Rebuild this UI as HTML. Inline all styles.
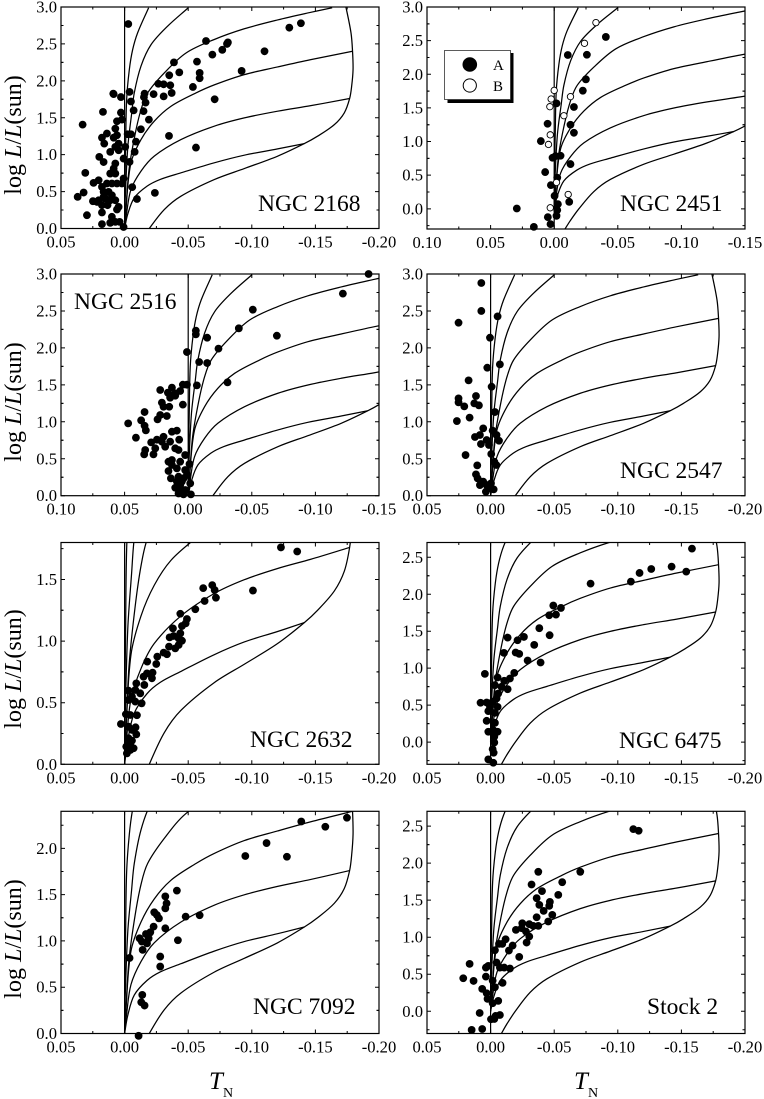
<!DOCTYPE html>
<html lang="en">
<head>
<meta charset="utf-8">
<title>Colour-magnitude panels</title>
<style>
html,body{margin:0;padding:0;background:#fff;}
svg{display:block;}
text{font-family:"Liberation Serif",serif;fill:#000;}
</style>
</head>
<body>
<svg id="chart" xmlns="http://www.w3.org/2000/svg" width="764" height="1099" viewBox="0 0 764 1099">
<rect x="0" y="0" width="764" height="1099" fill="#fff"/>
<text transform="translate(21,135) rotate(-90)" text-anchor="middle" font-size="24">log <tspan font-style="italic">L</tspan>/<tspan font-style="italic">L</tspan>(sun)</text>
<text transform="translate(21,402) rotate(-90)" text-anchor="middle" font-size="24">log <tspan font-style="italic">L</tspan>/<tspan font-style="italic">L</tspan>(sun)</text>
<text transform="translate(21,669) rotate(-90)" text-anchor="middle" font-size="24">log <tspan font-style="italic">L</tspan>/<tspan font-style="italic">L</tspan>(sun)</text>
<text transform="translate(21,939) rotate(-90)" text-anchor="middle" font-size="24">log <tspan font-style="italic">L</tspan>/<tspan font-style="italic">L</tspan>(sun)</text>
<text x="209" y="1089" font-size="25" font-style="italic">T</text>
<text x="223" y="1097" font-size="14">N</text>
<text x="574" y="1089" font-size="25" font-style="italic">T</text>
<text x="588" y="1097" font-size="14">N</text>
<g id="panels"></g>
<g>
<rect x="447.5" y="53" width="66" height="50" fill="#000"/>
<rect x="444.5" y="50.5" width="66" height="49" fill="#fff" stroke="#333" stroke-width="0.8"/>
<circle cx="469.8" cy="64.5" r="7.3" fill="#000"/>
<circle cx="469.8" cy="85.5" r="6.6" fill="#fff" stroke="#000" stroke-width="1"/>
<text x="493" y="70" font-size="15">A</text>
<text x="493" y="91" font-size="15">B</text>
</g>
</svg>
<script>
const curveBoundary = [[-.0085,-.3],[-.0125,-.18],[-.0194,0],[-.0312,.257],[-.0443,.438],[-.0705,.663],[-.0941,.812],[-.1203,.98],[-.1413,1.15],[-.1517,1.25],[-.1649,1.407],[-.1727,1.566],[-.1769,1.76],[-.1785,1.927],[-.1796,2.15],[-.1792,2.4],[-.178,2.648],[-.1741,2.99],[-.173,3.05]];
const curveK1 = [[0,0],[-.0024,.19],[-.0076,.415],[-.0177,.574],[-.028,.665],[-.0443,.754],[-.0705,.89],[-.0941,.993],[-.1203,1.078],[-.1413,1.15]];
const curveK2 = [[0,0],[-.0015,.2],[-.005,.528],[-.0129,.777],[-.0233,.98],[-.0443,1.204],[-.0705,1.386],[-.0941,1.498],[-.1203,1.589],[-.1464,1.664],[-.1769,1.76]];
const curveK3 = [[0,0],[-.0012,.3],[-.005,.889],[-.0129,1.204],[-.0233,1.453],[-.0365,1.656],[-.0561,1.836],[-.0705,1.945],[-.0941,2.084],[-.1203,2.188],[-.1464,2.287],[-.1792,2.4]];
const curveK4 = [[0,0],[-.001,.25],[-.0035,.8],[-.0082,1.272],[-.0129,1.61],[-.0181,1.836],[-.0312,2.107],[-.0483,2.377],[-.0705,2.56],[-.0941,2.705],[-.1203,2.825],[-.1464,2.928],[-.1632,2.99]];
const curveK5 = [[0,0],[-.0005,.4],[-.0025,1.1],[-.0055,1.55],[-.0076,1.836],[-.0129,2.2],[-.0208,2.49],[-.0338,2.74],[-.0501,2.99]];
const curveK6 = [[0,0],[-.0002,.5],[-.0008,1.1],[-.0016,1.746],[-.0037,2.15],[-.0063,2.42],[-.0102,2.648],[-.0189,2.99]];

const xLabelsRed = [0.05,0,-0.05,-0.10,-0.15,-0.20];
const xLabelsBlue = [0.10,0.05,0,-0.05,-0.10,-0.15];
const yLabels30 = [0,0.5,1.0,1.5,2.0,2.5,3.0];
const yLabels18 = [0,0.5,1.0,1.5];
const yLabels25 = [0,0.5,1.0,1.5,2.0,2.5];
const yLabels20 = [0,0.5,1.0,1.5,2.0];

const ngc2168Stars = [[-.0029,2.77],[-.064,2.54],[-.0812,2.52],[-.0805,2.5],[-.1295,2.72],[-.1386,2.78],[-.11,2.4],[-.0768,2.42],[-.069,2.355],[-.0569,2.26],[-.0388,2.25],[-.043,2.115],[-.059,2.107],[-.059,2.035],[-.0351,2.075],[-.092,2.134],[-.0537,1.917],[-.0265,1.96],[-.0307,1.953],[-.0359,1.94],[-.037,1.836],[-.0307,1.79],[-.0228,1.82],[-.0157,1.827],[-.0152,1.78],[-.0165,1.705],[-.0708,1.75],[-.0039,1.85],[-.005,1.72],[-.0071,1.6],[-.0149,1.59],[-.0191,1.475],[-.0128,1.344],[-.0349,1.254],[-.0561,1.096],[-.0089,1.177],[-.0024,1.277],[-.005,1.277],[-.0079,1.038],[-.0039,.902],[-.006,.56],[-.0097,.4],[-.0238,.483],[.0008,.02],[.0089,1.827],[.0086,1.82],[.0029,1.78],[.0029,1.57],[.017,1.58],[.033,1.407],[.0021,1.475],[.006,1.453],[.0073,1.353],[.0139,1.286],[.0178,1.23],[.016,1.15],[.006,1.263],[.0086,1.23],[.0047,1.15],[.0113,1.038],[.0073,1.105],[.0047,1.06],[-.0005,1.105],[.0199,.97],[.0165,.9],[.0073,.88],[.0309,.753],[.0008,.947],[.0113,.744],[.0073,.744],[.0086,.812],[.0008,.677],[.006,.609],[.0021,.609],[.0244,.618],[.0204,.654],[.0178,.564],[.0139,.609],[.01,.609],[.0165,.496],[.0126,.496],[.0322,.487],[.0369,.429],[.0249,.37],[.0204,.383],[.0152,.406],[.0113,.383],[.0178,.316],[.0134,.316],[.0073,.383],[.0047,.293],[.006,.257],[.0178,.217],[.0296,.18],[.0178,.059],[.01,.158],[.0073,.09],[.0113,.077],[.0039,.09],[.0165,.429],[.0217,.36],[.01,.45]];
const ngc2451StarsA = [[-.0406,2.555],[-.0107,2.287],[-.0257,2.29],[-.0249,1.925],[-.0225,1.756],[-.0018,1.567],[-.0155,1.513],[.0052,1.265],[-.0128,1.25],[-.0155,1.13],[.0105,1.007],[.0013,.759],[-.005,.789],[-.001,.784],[-.0128,.665],[.0071,.546],[-.0024,.461],[.0026,.352],[-.0003,.193],[-.0118,.104],[.0294,.005],[-.0029,.069],[-.0024,-.02],[.005,-.124],[-.0018,-.104],[.0029,-.228],[.016,-.268]];
const ngc2451StarsB = [[-.0328,2.768],[-.0238,2.46],[0,1.76],[.0024,1.632],[.0034,1.518],[-.0128,1.667],[-.0076,1.384],[.0031,1.1],[.0045,.957],[-.0018,.392],[-.011,.213],[.0031,.015]];
const ngc2516Stars = [[-.1418,3.0],[-.1216,2.734],[-.0508,2.517],[-.0398,2.265],[-.0697,2.165],[-.006,2.233],[-.006,2.183],[-.0149,2.138],[-.0238,1.99],[.001,1.944],[-.0086,1.809],[-.0149,1.795],[-.0309,1.534],[-.0068,1.493],[.0042,1.502],[.001,1.502],[.022,1.43],[.0128,1.462],[.016,1.394],[.0102,1.385],[.0063,1.417],[.0142,1.326],[.0102,1.353],[.0042,1.232],[.0207,1.259],[.0194,1.204],[.0149,1.204],[.0343,1.132],[.037,1.02],[.0343,.947],[.0333,.884],[.0472,.979],[.0411,.785],[.022,1.092],[.0241,1.033],[.0168,1.078],[.0338,.618],[.0346,.559],[.0273,.559],[.0291,.722],[.0246,.758],[.0259,.641],[.0194,.798],[.0128,.866],[.0089,.88],[.0071,.758],[.0181,.663],[.0142,.731],[.0207,.731],[.0102,.641],[.0076,.618],[.0024,.55],[.0128,.483],[.0155,.46],[.0063,.46],[-.001,.429],[.0128,.415],[.0155,.334],[.0089,.37],[.0024,.347],[.0136,.235],[.0076,.257],[.0037,.235],[.0102,.108],[.0063,.144],[-.0016,.167],[.0024,.077],[.0076,.03],[-.0021,.018],[.0037,.018],[.0063,.099],[.005,.19],[.001,.28],[.0089,.19]];
const ngc2547Stars = [[.0073,2.878],[.0073,2.5],[.0252,2.341],[-.0055,2.427],[.0005,2.138],[.0026,1.732],[-.0073,1.777],[-.0008,1.475],[.0173,1.561],[.0252,1.317],[.0252,1.263],[.0115,1.349],[.0128,1.25],[.0092,1.223],[.0207,1.209],[.0165,1.056],[.0265,1.01],[-.0034,1.132],[.0058,.911],[-.0016,.88],[.0123,.794],[.0084,.821],[.0076,.699],[.0031,.753],[.0013,.686],[-.0047,.821],[-.0066,.744],[.0197,.55],[-.0005,.564],[-.0029,.46],[-.0045,.415],[.0105,.41],[.0115,.289],[.0102,.235],[.0084,.144],[.0058,.19],[.0031,.144],[-.0003,.167],[-.0024,.086],[.0037,.054],[.0013,.099]];
const ngc2632Stars = [[-.1229,1.76],[-.1357,1.727],[-.1009,1.41],[-.0618,1.43],[-.0689,1.454],[-.0708,1.414],[-.0718,1.352],[-.0629,1.325],[-.0556,1.258],[-.0438,1.222],[-.049,1.179],[-.048,1.144],[-.0451,1.122],[-.038,1.103],[-.0385,1.041],[-.0354,1.03],[-.0438,1.063],[-.0425,1.022],[-.0451,1.003],[-.0425,.968],[-.0349,.955],[-.0398,.941],[-.0307,.906],[-.0333,.893],[-.0178,.833],[-.0257,.874],[-.0249,.814],[-.022,.744],[-.0176,.738],[-.0149,.711],[-.0215,.698],[-.0155,.644],[-.0092,.657],[-.0123,.576],[-.0084,.603],[-.0031,.598],[-.0058,.549],[-.0134,.495],[-.0031,.522],[-.0084,.509],[-.001,.406],[-.0045,.4],[-.0097,.398],[.0029,.327],[-.0031,.306],[-.0086,.3],[-.0092,.243],[-.0031,.211],[-.0058,.192],[-.0013,.143],[-.0071,.13],[-.0045,.116],[-.0018,.089],[-.0045,.17],[-.0058,.279]];
const ngc6475Stars = [[-.1583,2.617],[-.1538,2.306],[-.1423,2.374],[-.1263,2.342],[-.1171,2.288],[-.1103,2.171],[-.0786,2.144],[-.0553,1.815],[-.0493,1.847],[-.0514,1.725],[-.0461,1.716],[-.0383,1.541],[-.0464,1.446],[-.0343,1.315],[-.0262,1.423],[-.0212,1.378],[-.0134,1.414],[-.0105,1.207],[-.0197,1.212],[-.0225,1.194],[-.0291,1.104],[-.0393,1.077],[-.0186,.937],[-.0152,.86],[.0045,.923],[-.0055,.874],[-.0107,.829],[-.0034,.77],[-.0086,.748],[-.0134,.716],[-.006,.658],[.0079,.532],[.0031,.536],[-.0047,.59],[-.0016,.545],[-.0055,.477],[.0005,.477],[.0018,.419],[-.0034,.396],[.0031,.288],[-.0034,.261],[.0018,.14],[-.0055,.14],[-.0021,.162],[-.0029,.072],[-.0029,-.005],[-.0016,-.095],[-.0024,-.144],[.0018,-.234],[-.0021,-.279]];
const ngc7092Stars = [[-.1748,2.33],[-.1578,2.233],[-.1389,2.29],[-.1116,2.057],[-.0949,1.917],[-.1276,1.909],[-.0411,1.543],[-.032,1.481],[-.033,1.406],[-.032,1.352],[-.0233,1.309],[-.0254,1.28],[-.027,1.244],[-.048,1.262],[-.059,1.277],[-.0228,1.154],[-.032,1.136],[-.0202,1.093],[-.0168,1.075],[-.0189,1.028],[-.0118,1.028],[-.0136,.992],[-.0176,.974],[-.0419,1.007],[-.0142,.903],[-.0039,.816],[-.028,.831],[-.028,.723],[-.0139,.417],[-.0131,.338],[-.0157,.302],[-.011,-.025]];
const stock2Stars = [[-.1122,2.459],[-.1164,2.437],[-.0705,1.883],[-.0375,1.883],[-.0563,1.743],[-.0322,1.712],[-.0404,1.622],[-.0532,1.572],[-.0362,1.527],[-.0466,1.477],[-.0383,1.437],[-.0461,1.423],[-.0417,1.356],[-.0485,1.302],[-.0362,1.27],[-.0453,1.212],[-.0375,1.153],[-.0335,1.153],[-.0304,1.176],[-.0249,1.189],[-.0199,1.099],[-.0244,1.122],[-.0278,1.077],[-.0304,1.009],[-.0283,.928],[-.0118,.973],[-.0066,.91],[-.0092,.91],[-.0173,.887],[-.0144,.82],[-.0225,.734],[-.0034,.824],[-.0047,.658],[-.0073,.59],[-.0107,.59],[-.0152,.577],[.0165,.64],[.0037,.59],[.0018,.613],[.0037,.468],[.0215,.446],[.0134,.41],[-.0016,.414],[-.0034,.324],[-.0094,.383],[.0066,.302],[.0031,.243],[.0024,.167],[-.0016,.108],[-.006,.14],[.0086,-.023],[-.0073,-.05],[-.0039,-.063],[-.0003,-.108],[-.0029,-.104],[.0149,-.252],[.0066,-.239]];

const NS = 'http://www.w3.org/2000/svg';
const root = document.getElementById('panels');
const curveNames = ['boundary','k1','k2','k3','k4','k5','k6'];
const curveSets = [curveBoundary,curveK1,curveK2,curveK3,curveK4,curveK5,curveK6];

function make(tag, attrs, parent){
  const n = document.createElementNS(NS, tag);
  for (const k in attrs) n.setAttribute(k, attrs[k]);
  parent.appendChild(n);
  return n;
}
function unitVector(a, b){
  const dx = b[0] - a[0], dy = b[1] - a[1];
  const len = Math.hypot(dx, dy) || 1;
  return [dx / len, dy / len];
}
function smoothPath(pts){
  let d = 'M' + pts[0][0].toFixed(2) + ' ' + pts[0][1].toFixed(2);
  for (let i = 0; i < pts.length - 1; i++){
    const p0 = pts[Math.max(i-1,0)], p1 = pts[i], p2 = pts[i+1], p3 = pts[Math.min(i+2,pts.length-1)];
    const seg = Math.hypot(p2[0]-p1[0], p2[1]-p1[1]) / 3;
    const u1 = unitVector(p0, p2), u2 = unitVector(p1, p3);
    const c1x = p1[0] + u1[0]*seg, c1y = p1[1] + u1[1]*seg;
    const c2x = p2[0] - u2[0]*seg, c2y = p2[1] - u2[1]*seg;
    d += 'C' + c1x.toFixed(2) + ' ' + c1y.toFixed(2) + ' ' + c2x.toFixed(2) + ' ' + c2y.toFixed(2) + ' ' + p2[0].toFixed(2) + ' ' + p2[1].toFixed(2);
  }
  return d;
}
function drawPanel(cfg){
  const g = make('g', {}, root);
  
  
  const xScale = t => cfg.left + (cfg.xMax - t) / (cfg.xMax - cfg.xMin) * (cfg.right - cfg.left);
  const yScale = l => cfg.bottom - (l - cfg.yMin) / (cfg.yMax - cfg.yMin) * (cfg.bottom - cfg.top);

  const clip = make('clipPath', {id: 'clip-' + cfg.slug}, g);
  make('rect', {x: cfg.left, y: cfg.top, width: cfg.right - cfg.left, height: cfg.bottom - cfg.top}, clip);

  const plot = make('g', {'clip-path': 'url(#clip-' + cfg.slug + ')'}, g);
  
  

  const zero = make('line', {x1: xScale(0), x2: xScale(0), y1: cfg.top, y2: cfg.bottom, stroke: '#000', 'stroke-width': 1.2}, plot);
  
  

  curveSets.forEach((c, i) => {
    const mapped = c.map(p => [xScale(p[0]), yScale(p[1])]);
    const path = make('path', {d: smoothPath(mapped), fill: 'none', stroke: '#000', 'stroke-width': 1.25}, plot);
    
    
  });

  cfg.filled.forEach(p => {
    const dot = make('circle', {cx: xScale(p[0]), cy: yScale(p[1]), r: 3.9, fill: '#000'}, g);
    
    
  });
  (cfg.open || []).forEach(p => {
    const dot = make('circle', {cx: xScale(p[0]), cy: yScale(p[1]), r: 3.2, fill: '#fff', stroke: '#000', 'stroke-width': 0.9}, g);
    
    
  });

  const frame = make('rect', {x: cfg.left, y: cfg.top, width: cfg.right - cfg.left, height: cfg.bottom - cfg.top, fill: 'none', stroke: '#000', 'stroke-width': 1.2}, g);
  
  

  const ticks = make('g', {stroke: '#000', 'stroke-width': 1}, g);
  
  
  const labels = make('g', {'font-size': 16.6}, g);
  
  

  cfg.xLabels.forEach((v, i) => {
    const x = xScale(v);
    make('path', {d: 'M' + x + ' ' + cfg.bottom + 'v-4M' + x + ' ' + cfg.top + 'v4'}, ticks);
    if (i < cfg.xLabels.length - 1){
      const xm = xScale(v - 0.025);
      make('path', {d: 'M' + xm + ' ' + cfg.bottom + 'v-2.5M' + xm + ' ' + cfg.top + 'v2.5'}, ticks);
    }
    const t = make('text', {x: x, y: cfg.bottom + 19, 'text-anchor': 'middle'}, labels);
    
    
    t.textContent = v.toFixed(2);
  });
  cfg.yLabels.forEach(v => {
    const y = yScale(v);
    make('path', {d: 'M' + cfg.left + ' ' + y + 'h4M' + cfg.right + ' ' + y + 'h-4'}, ticks);
    [v - 0.25, v + 0.25].forEach(m => {
      if (m > cfg.yMin && m < cfg.yMax){
        const ym = yScale(m);
        make('path', {d: 'M' + cfg.left + ' ' + ym + 'h2.5M' + cfg.right + ' ' + ym + 'h-2.5'}, ticks);
      }
    });
    const t = make('text', {x: cfg.left - 4, y: y + 5.5, 'text-anchor': 'end'}, labels);
    
    
    t.textContent = v.toFixed(1);
  });

  const title = make('text', {x: cfg.titleX, y: cfg.titleY, 'font-size': 23.5}, g);
  
  
  title.textContent = cfg.title;
}

const L1 = 61, R1 = 379, L2 = 427, R2 = 745;
drawPanel({slug:'ngc-2168', title:'NGC 2168', titleX:258, titleY:211, left:L1, right:R1, top:7, bottom:228.5, xMax:.05, xMin:-.20, yMin:0, yMax:3, xLabels:xLabelsRed, yLabels:yLabels30, filled:ngc2168Stars});
drawPanel({slug:'ngc-2451', title:'NGC 2451', titleX:620, titleY:211, left:L2, right:R2, top:7, bottom:229, xMax:.10, xMin:-.15, yMin:-.3, yMax:3, xLabels:xLabelsBlue, yLabels:yLabels30, filled:ngc2451StarsA, open:ngc2451StarsB});
drawPanel({slug:'ngc-2516', title:'NGC 2516', titleX:74, titleY:309, left:L1, right:R1, top:274, bottom:495.7, xMax:.10, xMin:-.15, yMin:0, yMax:3, xLabels:xLabelsBlue, yLabels:yLabels30, filled:ngc2516Stars});
drawPanel({slug:'ngc-2547', title:'NGC 2547', titleX:620, titleY:478, left:L2, right:R2, top:274, bottom:495.7, xMax:.05, xMin:-.20, yMin:0, yMax:3, xLabels:xLabelsRed, yLabels:yLabels30, filled:ngc2547Stars});
drawPanel({slug:'ngc-2632', title:'NGC 2632', titleX:250, titleY:747, left:L1, right:R1, top:542.5, bottom:764.3, xMax:.05, xMin:-.20, yMin:0, yMax:1.8, xLabels:xLabelsRed, yLabels:yLabels18, filled:ngc2632Stars});
drawPanel({slug:'ngc-6475', title:'NGC 6475', titleX:619, titleY:748, left:L2, right:R2, top:542.5, bottom:764.3, xMax:.05, xMin:-.20, yMin:-.3, yMax:2.7, xLabels:xLabelsRed, yLabels:yLabels25, filled:ngc6475Stars});
drawPanel({slug:'ngc-7092', title:'NGC 7092', titleX:253, titleY:1014, left:L1, right:R1, top:811.3, bottom:1033.5, xMax:.05, xMin:-.20, yMin:0, yMax:2.4, xLabels:xLabelsRed, yLabels:yLabels20, filled:ngc7092Stars});
drawPanel({slug:'stock-2', title:'Stock 2', titleX:647, titleY:1014, left:L2, right:R2, top:811.3, bottom:1033.5, xMax:.05, xMin:-.20, yMin:-.3, yMax:2.7, xLabels:xLabelsRed, yLabels:yLabels25, filled:stock2Stars});
</script>
</body>
</html>
